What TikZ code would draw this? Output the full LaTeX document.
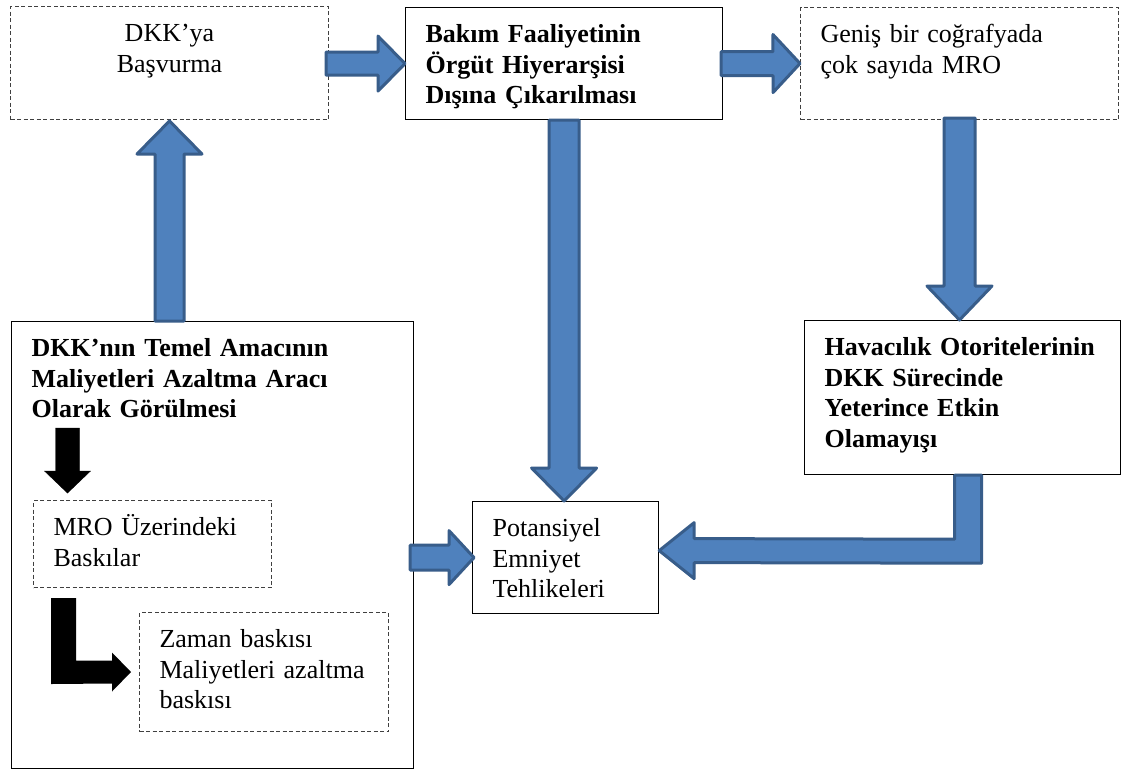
\documentclass[tikz,border=0pt]{standalone}
\usepackage{fontspec}
\setmainfont{Liberation Serif}
\usetikzlibrary{calc}

\definecolor{arrowfill}{HTML}{4F81BD}
\definecolor{arrowline}{HTML}{385D8A}
\newcommand{\boxfont}{\fontsize{26}{30.5}\selectfont}

\newcommand{\fatarrow}[6][blockarr]{%
  \path let \p1=#2, \p2=#3,
    \n1={atan2(\y2-\y1,\x2-\x1)}, \n2={veclen(\x2-\x1,\y2-\y1)} in
    \pgfextra{\xdef\fatx{\x1}\xdef\faty{\y1}\xdef\fatang{\n1}\xdef\fatlen{\n2}};
  \begin{scope}[shift={(\fatx,\faty)}, rotate=\fatang, x=1pt, y=1pt]
    \draw[#1] (0,#4) -- ({\fatlen-#6},#4) -- ({\fatlen-#6},#5) -- (\fatlen,0)
      -- ({\fatlen-#6},-#5) -- ({\fatlen-#6},-#4) -- (0,-#4) -- cycle;
  \end{scope}}

\begin{document}
\begin{tikzpicture}[x=1pt, y=-1pt,
  every node/.style={font=\boxfont},
  solidbox/.style={draw, line width=1.2pt, anchor=north west, align=left, inner xsep=20pt, inner ysep=14pt, text height=21pt},
  dashbox/.style={solidbox, line width=1pt, draw=black!75, dash pattern=on 4pt off 2.5pt},
  heading/.style={font=\boxfont\bfseries},
  blockarr/.style={draw=arrowline, fill=arrowfill, line width=3pt, line join=round},
  blackarr/.style={fill=black},
]
\fill[white] (0,0) rectangle (1121,769);
\useasboundingbox (0,0) rectangle (1121,769);

\node[dashbox, align=center, text width=278pt, text depth=64pt] (basvur) at (10,6) {DKK’ya\\Başvurma};
\node[solidbox, heading, text width=277pt, text depth=63pt] (bakim) at (405,7) {Bakım Faaliyetinin\\Örgüt Hiyerarşisi\\Dışına Çıkarılması};
\node[dashbox, text width=278pt, text depth=63pt] (genis) at (800,7) {Geniş bir coğrafyada\\çok sayıda MRO};
\node[solidbox, heading, text width=276pt, text depth=105pt] (hava) at (804,320) {Havacılık~Otoritelerinin\\DKK Sürecinde\\Yeterince Etkin\\Olamayışı};
\node[solidbox, heading, text width=362pt, text depth=398pt] (temel) at (11,321) {DKK’nın Temel Amacının\\Maliyetleri Azaltma Aracı\\Olarak Görülmesi};
\node[dashbox, text width=198pt, text depth=38pt] (mro) at (33,500) {MRO Üzerindeki\\Baskılar};
\node[dashbox, text width=209pt, text depth=70pt] (zaman) at (139,612) {Zaman baskısı\\Maliyetleri~azaltma\\baskısı};
\node[solidbox, text width=146pt, text depth=63pt] (pot) at (472,501) {Potansiyel\\Emniyet\\Tehlikeleri};

\fatarrow{($(basvur.east |- bakim.west)+(-3,0)$)}{(bakim.west)}{11.5}{27.5}{27}
\fatarrow{($(bakim.east)+(-2,0)$)}{(genis.west)}{12}{29}{27}
\fatarrow{(basvur.south |- temel.north)}{($(basvur.south)+(0,1)$)}{14.5}{32.5}{33}
\fatarrow{(bakim.south)}{(bakim.south |- pot.north)}{15}{32.5}{33}
\fatarrow{($(genis.south)+(0,-2)$)}{(genis.south |- hava.north)}{15.5}{32.5}{34}
\fatarrow{($(temel.east |- pot.west)+(-4,0)$)}{($(pot.west)+(2,0)$)}{12.5}{27}{25}
\draw[blockarr] ($(hava.south)+(-8,0)$) -- ++(27,0) -- ++(0,88) -- ($(pot.east)+(35,5)$) -- ++(0,16)
  -- ($(pot.east)+(0,-7)$) -- ($(pot.east)+(35,-35)$) -- ++(0,16) -- ($(hava.south)+(-8,64)$) -- cycle;

\fatarrow[blackarr]{($(mro.north west)+(34.5,-72)$)}{($(mro.north west)+(34.5,-7)$)}{12}{23}{22}
\fill[blackarr] ($(mro.south west)+(18,10)$) -- ++(25,0) |- ($(zaman.west)+(-27,-11.5)$) -- ++(0,-8)
  -- ($(zaman.west)+(-8,0)$) -- ($(zaman.west)+(-27,19.5)$) -- ++(0,-8) -- ($(mro.south west)+(18,96)$) -- cycle;
\end{tikzpicture}
\end{document}
